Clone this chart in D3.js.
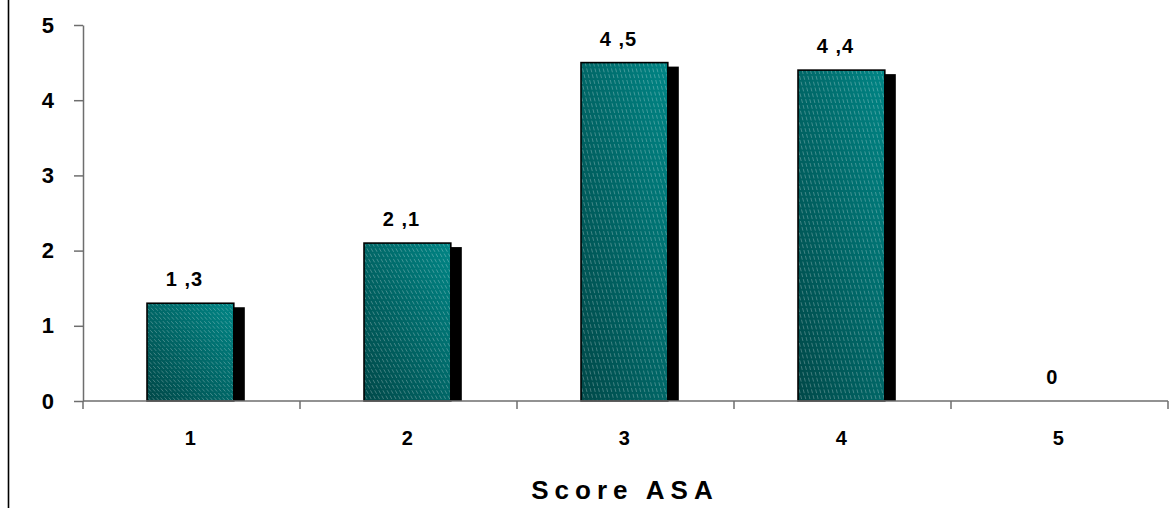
<!DOCTYPE html>
<html>
<head>
<meta charset="utf-8">
<script src="https://cdn.jsdelivr.net/npm/d3@7"></script>
<style>
  html, body { margin: 0; padding: 0; background: #fff; }
  svg { display: block; font-family: "Liberation Sans", Arial, sans-serif; font-weight: bold; }
</style>
</head>
<body>
<svg id="chart" width="1176" height="508"></svg>
<script>
// ASA score distribution
const categories = ["1", "2", "3", "4", "5"];
const values = [1.3, 2.1, 4.5, 4.4, 0];
const yTicks = [0, 1, 2, 3, 4, 5];
const xTitle = "Score ASA";

const svg = d3.select("#chart");
const W = 1176, H = 508;
const margin = { left: 83, right: 8, top: 25, bottom: 107 };
const plotBottom = H - margin.bottom;

const x = d3.scaleBand().domain(categories).range([margin.left, W - margin.right]).padding(0);
const y = d3.scaleLinear().domain([0, 5]).range([plotBottom, margin.top]);

const axisColor = "#6e6e6e";
const fmt = v => d3.format(".1~f")(v).replace(".", " ,");

// frame line on the left
svg.append("line")
  .attr("x1", 8.5).attr("x2", 8.5).attr("y1", 0).attr("y2", H)
  .attr("stroke", "#000").attr("stroke-width", 1.6);

// bar fill: teal gradient from lower left to upper right
const defs = svg.append("defs");
const grad = defs.append("linearGradient").attr("id", "tealGrad")
  .attr("x1", 0).attr("y1", 1).attr("x2", 1).attr("y2", 0);
grad.append("stop").attr("offset", "0%").attr("stop-color", "#004848");
grad.append("stop").attr("offset", "100%").attr("stop-color", "#008585");

const barW = x.bandwidth() * 0.40;
const barOff = x.bandwidth() * 0.295;
const shadowDx = 11, shadowDy = 4;

const data = categories.map((c, i) => ({ cat: c, value: values[i] }));

const bars = svg.append("g").selectAll("g.bar")
  .data(data.filter(d => d.value > 0))
  .join("g").attr("class", "bar");

// drop shadow behind each bar
bars.append("rect")
  .attr("x", d => x(d.cat) + barOff + shadowDx)
  .attr("y", d => y(d.value) + shadowDy)
  .attr("width", barW)
  .attr("height", d => plotBottom - y(d.value) - shadowDy)
  .attr("fill", "#000");

bars.each(function (d, i) {
  const g = d3.select(this);
  const bx = x(d.cat) + barOff, by = y(d.value), bh = plotBottom - y(d.value);
  const clipId = "clip" + i;
  defs.append("clipPath").attr("id", clipId)
    .append("rect").attr("x", bx).attr("y", by).attr("width", barW).attr("height", bh);
  g.append("rect")
    .attr("x", bx).attr("y", by).attr("width", barW).attr("height", bh)
    .attr("fill", "url(#tealGrad)");
  // dashed hatch running parallel to the bar's diagonal
  const n = 21;
  const hatch = g.append("g").attr("clip-path", `url(#${clipId})`);
  hatch.selectAll("line").data(d3.range(-n, n + 1)).join("line")
    .attr("x1", k => bx + (k / n) * barW)
    .attr("y1", by)
    .attr("x2", k => bx + (k / n) * barW + barW)
    .attr("y2", by + bh)
    .attr("stroke", "#ffffff")
    .attr("stroke-opacity", 0.38)
    .attr("stroke-width", 0.7)
    .attr("stroke-dasharray", "4,2");
  g.append("rect")
    .attr("x", bx).attr("y", by).attr("width", barW).attr("height", bh)
    .attr("fill", "none").attr("stroke", "#000").attr("stroke-width", 1.6);
});

// y axis
const yAxis = d3.axisLeft(y).tickValues(yTicks).tickFormat(d3.format("d"))
  .tickSize(9).tickSizeOuter(0).tickPadding(20);
const gy = svg.append("g").attr("transform", `translate(${margin.left},0)`).call(yAxis);
gy.select(".domain").attr("stroke", axisColor).attr("stroke-width", 1.5);
gy.selectAll(".tick line").attr("stroke", axisColor).attr("stroke-width", 1.5);
gy.selectAll(".tick text").attr("font-size", 22).attr("font-weight", "bold")
  .attr("fill", "#000").attr("font-family", "Liberation Sans, Arial, sans-serif");

// x axis with tick marks between categories
const gx = svg.append("g");
gx.append("line")
  .attr("x1", margin.left).attr("x2", W - margin.right)
  .attr("y1", plotBottom).attr("y2", plotBottom)
  .attr("stroke", axisColor).attr("stroke-width", 1.5);
const bounds = categories.map(c => x(c)).concat([x.range()[1]]);
gx.selectAll("line.tk").data(bounds).join("line").attr("class", "tk")
  .attr("x1", d => d).attr("x2", d => d)
  .attr("y1", plotBottom).attr("y2", plotBottom + 8)
  .attr("stroke", axisColor).attr("stroke-width", 1.5);
gx.selectAll("text").data(categories).join("text")
  .attr("x", d => x(d) + barOff + barW / 2)
  .attr("y", plotBottom + 44)
  .attr("text-anchor", "middle")
  .attr("font-size", 20)
  .text(d => d);

// value labels above bars
svg.append("g").selectAll("text").data(data).join("text")
  .attr("x", d => x(d.cat) + barOff + barW / 2 - 6)
  .attr("y", d => y(d.value) - 17)
  .attr("text-anchor", "middle")
  .attr("font-size", 20)
  .attr("letter-spacing", 1)
  .text(d => fmt(d.value));

// axis title
svg.append("text")
  .attr("x", 625).attr("y", 499)
  .attr("text-anchor", "middle")
  .attr("font-size", 26)
  .attr("letter-spacing", 6)
  .text(xTitle);
</script>
</body>
</html>
